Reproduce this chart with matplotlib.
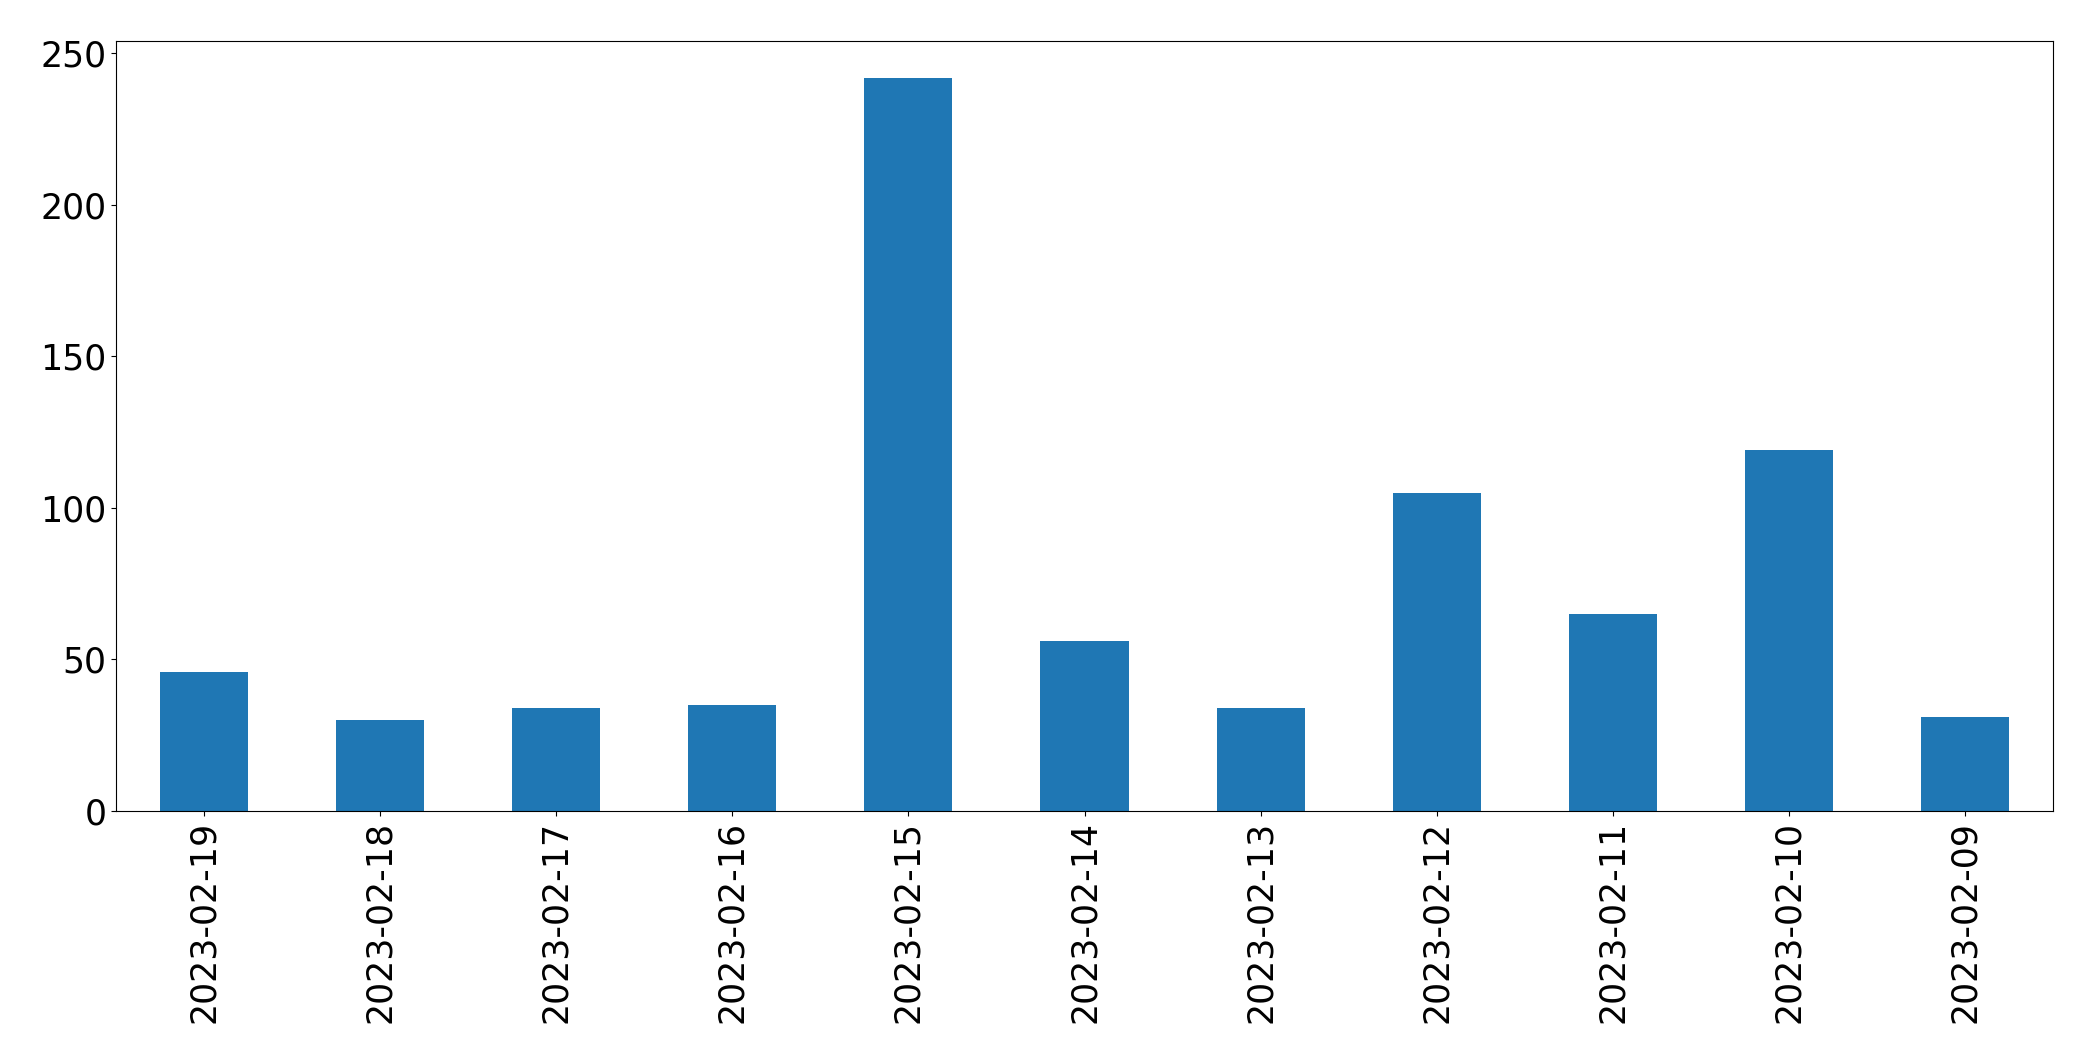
import matplotlib
matplotlib.use('Agg')
import matplotlib.pyplot as plt
import pandas as pd

# counts per day (newest first, as in the original)
dates = ['2023-02-19', '2023-02-18', '2023-02-17', '2023-02-16', '2023-02-15',
         '2023-02-14', '2023-02-13', '2023-02-12', '2023-02-11', '2023-02-10',
         '2023-02-09']
counts = [46, 30, 34, 35, 242, 56, 34, 105, 65, 119, 31]

s = pd.Series(counts, index=dates)

fig, ax = plt.subplots(figsize=(20.93, 10.63), dpi=100)
s.plot(kind='bar', ax=ax, color='#1f77b4')
ax.tick_params(axis='both', labelsize=25)
plt.subplots_adjust(left=116 / 2093, right=2053 / 2093, top=1 - 41 / 1063, bottom=1 - 811 / 1063)
fig.savefig('out.png', dpi=100)
